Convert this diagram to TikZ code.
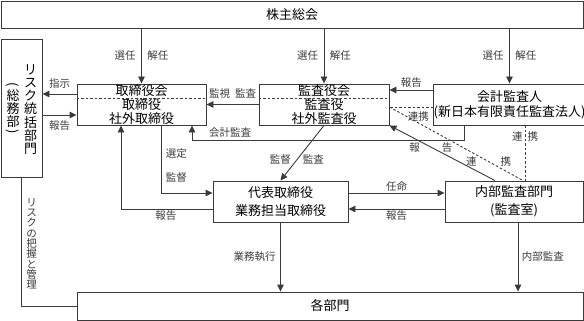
\documentclass[tikz,border=0pt]{standalone}
\usepackage{fontspec}
\usepackage{graphicx}
\setmainfont{Noto Sans CJK JP}
\usetikzlibrary{arrows.meta, positioning, calc}
\definecolor{LineGray}{HTML}{3A3A3A}
\newcommand{\vparen}[1]{\rotatebox[origin=c]{-90}{#1}}

\begin{document}
\begin{tikzpicture}[x=1pt, y=-1pt,
        box/.style={rectangle, draw=LineGray, line width=0.9pt, inner sep=0pt, align=center, font=\fontsize{13}{14}\selectfont},
        lbl/.style={inner sep=1pt, font=\fontsize{10.5}{12}\selectfont},
        vtext/.style={inner sep=0pt, align=center},
        arr/.style={-{Triangle[length=7pt,width=6.5pt]}, line width=0.9pt, LineGray},
        link/.style={line width=0.9pt, LineGray, dash pattern=on 2.5pt off 2pt}
      ]
        \useasboundingbox (0,0) rectangle (584,321);

        \node[box, minimum width=582pt, minimum height=27pt] (holders) at (292,14.5) {株主総会};
        \node[box, minimum width=41pt, minimum height=138pt] (risk) at (21.5,108) {};
        \node[vtext, font=\fontsize{13}{13.2}\selectfont] (riskname) at (30.5,109.5) {リ\\ス\\ク\\統\\括\\部\\門};
        \node[vtext, font=\fontsize{13}{13.2}\selectfont] (riskdept) at (13,109) {\vparen{(}\\[-2pt]総\\務\\部\\[-4.5pt]\vparen{)}};
        \node[box, minimum width=129pt, minimum height=41pt] (board) at (141.5,104.5) {取締役会\\取締役\\社外取締役};
        \node[box, minimum width=130pt, minimum height=41pt] (kansa) at (324,104.5) {監査役会\\監査役\\社外監査役};
        \node[box, minimum width=147pt, minimum height=41pt, font=\fontsize{13}{15}\selectfont] (kaikei) at (509.5,104.5) {会計監査人\\(新日本有限責任監査法人)};
        \node[box, minimum width=135pt, minimum height=41pt, font=\fontsize{13}{18}\selectfont] (daihyo) at (280.5,201.5) {代表取締役\\業務担当取締役};
        \node[box, minimum width=138pt, minimum height=41pt, font=\fontsize{13}{18}\selectfont] (naibu) at (514,201.5) {内部監査部門\\(監査室)};
        \node[box, minimum width=506pt, minimum height=28pt] (kaku) at (330,306) {各部門};

        \draw[link] ([yshift=6.5pt]board.west) -- ([yshift=6.5pt]board.east);
        \draw[link] ([yshift=6.5pt]kansa.west) -- ([yshift=6.5pt]kansa.east);

        \draw[arr] (holders.south -| board.north) -- (board.north) node[lbl, midway, left=4.5pt] {選任} node[lbl, midway, right=4.5pt] {解任};
        \draw[arr] (holders.south -| kansa.north) -- (kansa.north) node[lbl, midway, left=4.5pt] {選任} node[lbl, midway, right=4.5pt] {解任};
        \draw[arr] (holders.south -| kaikei.north) -- (kaikei.north) node[lbl, midway, left=4.5pt] {選任} node[lbl, midway, right=4.5pt] {解任};

        \draw[arr] ([yshift=10.5pt]board.west) -- ([yshift=10.5pt]board.west -| risk.east) node[lbl, midway, above=4pt] {指示};
        \draw[arr] ([yshift=-10.5pt]board.west -| risk.east) -- ([yshift=-10.5pt]board.west) node[lbl, midway, below=4pt] {報告};
        \draw[arr] (kansa.west) -- (board.east) node[lbl, midway, above=5pt] {監視\hspace{5pt}監査};
        \draw[arr] ([xshift=-45.5pt]kaikei.south) -- ++(0,15) -| ([xshift=50.5pt]board.south) node[lbl, pos=0.43, above=1.5pt] {会計監査};
        \draw[arr] ([yshift=14.5pt]kaikei.west) -- ([yshift=14.5pt]kaikei.west -| kansa.east) node[lbl, midway, above=1.5pt] {報告};
        \draw[link] ([yshift=-2.5pt]kaikei.west) -- ([yshift=-2.5pt]kaikei.west -| kansa.east) node[lbl, pos=0.34, below=3.5pt] {連携};
        \draw[link] ([yshift=-2.5pt]kansa.east) -- ([xshift=9pt]naibu.north) node[lbl, pos=0.743] {連\hspace{24pt}携};
        \draw[link] ([xshift=15.5pt]kaikei.south) -- ([xshift=15.5pt]kaikei.south |- naibu.north) node[lbl, pos=0.2] {連\hspace{5pt}携};
        \draw[arr] ([xshift=-19pt]naibu.north) -- (kansa.south east) node[lbl, pos=0.607] {報\hspace{22pt}告};
        \draw[arr] (kansa.south) -- (daihyo.north) node[lbl, pos=0.625] {監督\hspace{12pt}監査};
        \draw[arr] ([xshift=19.5pt]board.south) |- ([yshift=8.5pt]daihyo.west) node[lbl, pos=0.206, right=3.5pt] {選定} node[lbl, pos=0.382, right=3.5pt] {監督};
        \draw[arr] ([yshift=-7.5pt]daihyo.west) -| ([xshift=-20.5pt]board.south) node[lbl, pos=0.255, below=0.5pt] {報告};
        \draw[arr] ([yshift=8.5pt]daihyo.east) -- ([yshift=8.5pt]daihyo.east -| naibu.west) node[lbl, midway, above=0.5pt] {任命};
        \draw[arr] ([yshift=-7.5pt]naibu.west) -- ([yshift=-7.5pt]naibu.west -| daihyo.east) node[lbl, midway, below=0.5pt] {報告};
        \draw[arr] (daihyo.south) -- (daihyo.south |- kaku.north) node[lbl, midway, left=3.5pt] {業務執行};
        \draw[arr] ([xshift=4pt]naibu.south) -- ([xshift=4pt]naibu.south |- kaku.north) node[lbl, midway, right=2.5pt] {内部監査};
        \draw[line width=0.9pt, LineGray] (risk.south) |- (kaku.west) node[lbl, vtext, pos=0.258, right=4.5pt, font=\fontsize{10.5}{10.3}\selectfont] {リ\\ス\\ク\\の\\把\\握\\と\\管\\理};
      \end{tikzpicture}
\end{document}
